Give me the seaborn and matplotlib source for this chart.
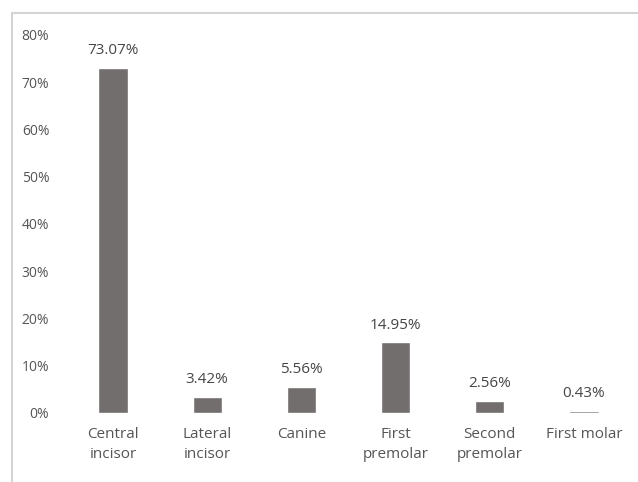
import matplotlib
matplotlib.use("Agg")
import matplotlib.pyplot as plt
import seaborn as sns
import pandas as pd
from matplotlib.lines import Line2D

categories = ["Central\nincisor", "Lateral\nincisor", "Canine", "First\npremolar", "Second\npremolar", "First molar"]
values = [73.07, 3.42, 5.56, 14.95, 2.56, 0.43]
yticks = [0, 10, 20, 30, 40, 50, 60, 70, 80]

sns.set_style("white")
plt.rcParams['font.family'] = ['Open Sans', 'DejaVu Sans']

df = pd.DataFrame({"tooth": categories, "pct": values})

fig = plt.figure(figsize=(6.38, 4.82), dpi=100)
ax = fig.add_axes([66/638, 1 - 413/482, (631-66)/638, (413-35)/482])

sns.barplot(data=df, x="tooth", y="pct", color="#736e6e", saturation=1, width=0.31, ax=ax)

ax.set_ylim(0, 80)
ax.set_xlim(-0.5, 5.5)
ax.set_yticks(yticks)
ax.set_yticklabels([f"{t}%" for t in yticks])
ax.set_xlabel("")
ax.set_ylabel("")
for s in ax.spines.values():
    s.set_visible(False)
ax.tick_params(axis='y', length=0, pad=12, labelsize=10, labelcolor="#555555")
ax.tick_params(axis='x', length=0, pad=10, labelsize=11, labelcolor="#555555")
for lbl in ax.get_xticklabels():
    lbl.set_linespacing(1.45)

for p, v in zip(ax.patches, values):
    ax.annotate(f"{v:.2f}%", (p.get_x() + p.get_width()/2, p.get_height()),
                xytext=(0, 7), textcoords="offset points", ha="center", va="bottom",
                fontsize=11, color="#454545")

fig.add_artist(Line2D([12/638, 1], [1 - 13/482, 1 - 13/482], transform=fig.transFigure, color="#d4d4d4", lw=1.5))
fig.add_artist(Line2D([12/638, 12/638], [0, 1 - 13/482], transform=fig.transFigure, color="#d4d4d4", lw=1.5))

fig.savefig("out.png", dpi=100)
